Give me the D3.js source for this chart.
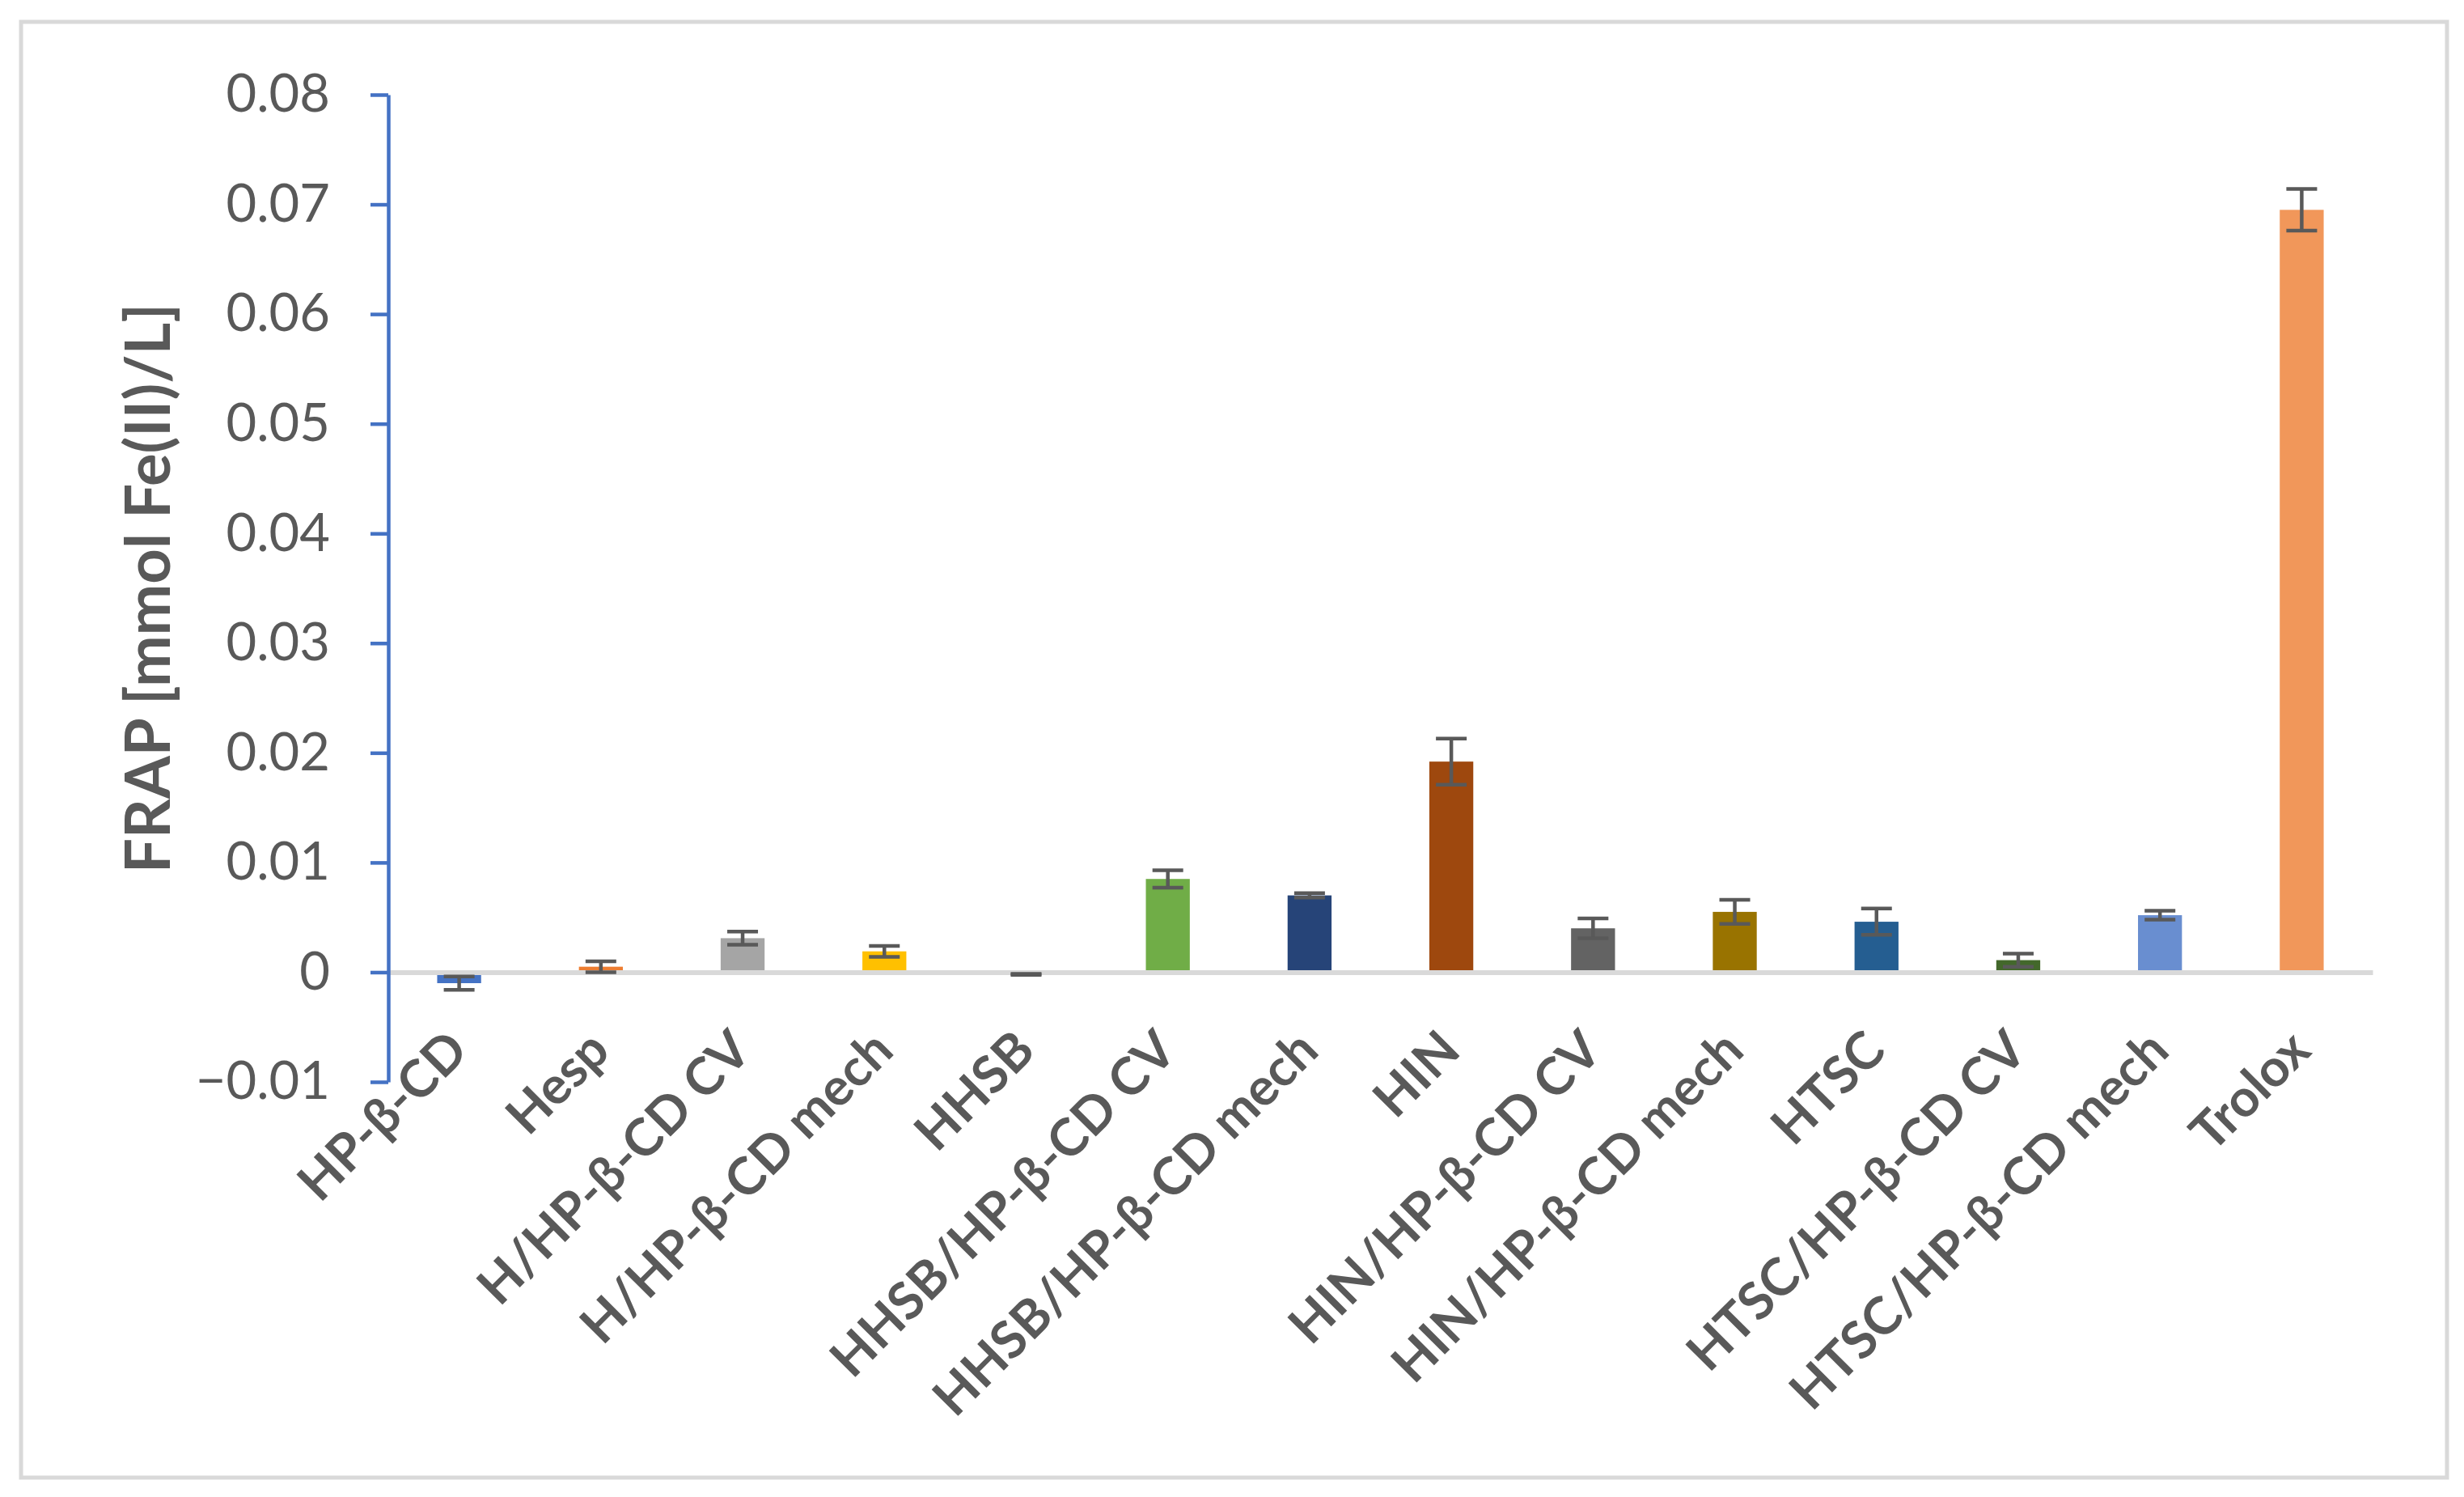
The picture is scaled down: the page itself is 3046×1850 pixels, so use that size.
<!DOCTYPE html>
<html>
<head>
<meta charset="utf-8">
<script src="https://cdn.jsdelivr.net/npm/d3@7"></script>
<style>
  html, body { margin: 0; padding: 0; background: #ffffff; }
  svg { display: block; }
</style>
</head>
<body>
<svg id="chart" width="3046" height="1850"></svg>
<script>
// ---- data ----
const categories = ["HP-β-CD", "Hesp", "H/HP-β-CD CV", "H/HP-β-CD mech", "HHSB",
  "HHSB/HP-β-CD CV", "HHSB/HP-β-CD mech", "HIN", "HIN/HP-β-CD CV", "HIN/HP-β-CD mech",
  "HTSC", "HTSC/HP-β-CD CV", "HTSC/HP-β-CD mech", "Trolox"];
const values = [-0.0010, 0.0005, 0.0031, 0.0019, -0.0002, 0.0085, 0.0070, 0.0192,
  0.0040, 0.0055, 0.0046, 0.0011, 0.0052, 0.0695];
const errors = [0.0006, 0.0005, 0.0006, 0.0005, 0.00004, 0.0008, 0.0002, 0.0021,
  0.0009, 0.0011, 0.0012, 0.0006, 0.0004, 0.0019];
const barColors = ["#4472C4", "#ED7D31", "#A5A5A5", "#FFC000", "#5B9BD5", "#70AD47",
  "#264478", "#9E480E", "#636363", "#997300", "#255E91", "#43682B", "#698ED0", "#F1975A"];
const yTickValues = [-0.01, 0, 0.01, 0.02, 0.03, 0.04, 0.05, 0.06, 0.07, 0.08];
const yTickLabels = ["\u22120.01", "0", "0.01", "0.02", "0.03", "0.04", "0.05", "0.06", "0.07", "0.08"];
const yTitle = "FRAP [mmol Fe(II)/L]";

// ---- layout ----
const svg = d3.select("#chart");
const plotLeft = 480, plotRight = 2933, plotTop = 117, plotBottom = 1337;

svg.append("rect")
  .attr("x", 26).attr("y", 27).attr("width", 2999).attr("height", 1799)
  .attr("fill", "#ffffff").attr("stroke", "#D9D9D9").attr("stroke-width", 5);

const y = d3.scaleLinear().domain([-0.01, 0.08]).range([plotBottom, plotTop]);
const pad = 0.69;
const x = d3.scaleBand().domain(categories).range([plotLeft, plotRight])
  .paddingInner(pad).paddingOuter(pad / 2);

const data = categories.map((c, i) => ({ c, v: values[i], e: errors[i], col: barColors[i] }));

// bars
svg.append("g").selectAll("rect").data(data).join("rect")
  .attr("x", d => x(d.c))
  .attr("width", x.bandwidth())
  .attr("y", d => y(Math.max(0, d.v)))
  .attr("height", d => Math.max(1, Math.abs(y(d.v) - y(0))))
  .attr("fill", d => d.col);

// category axis (zero line)
const xAxis = svg.append("g")
  .attr("transform", `translate(0,${y(0)})`)
  .call(d3.axisBottom(x).tickSize(0).tickSizeOuter(0));
xAxis.select(".domain").attr("stroke", "#D9D9D9").attr("stroke-width", 6);
xAxis.selectAll(".tick text")
  .attr("x", null).attr("y", null).attr("dy", null)
  .attr("transform", "translate(14,100) rotate(-45)")
  .attr("text-anchor", "end")
  .attr("fill", "#595959")
  .attr("font-family", "Lato, 'Open Sans', sans-serif")
  .attr("font-weight", "bold")
  .attr("font-size", 64);

// y axis
const yAxis = svg.append("g")
  .attr("transform", `translate(${plotLeft},0)`)
  .call(d3.axisLeft(y).tickValues(yTickValues)
    .tickFormat((d, i) => yTickLabels[i]).tickSize(22).tickSizeOuter(0).tickPadding(50));
yAxis.select(".domain").attr("stroke", "#4472C4").attr("stroke-width", 4.5);
yAxis.selectAll(".tick line").attr("stroke", "#4472C4").attr("stroke-width", 4.5);
yAxis.selectAll(".tick text")
  .attr("fill", "#595959")
  .attr("font-family", "Lato, 'Open Sans', sans-serif")
  .attr("font-size", 65);

// error bars
const capHalf = 19;
const eb = svg.append("g").attr("stroke", "#595959").attr("stroke-width", 4.5);
eb.selectAll("line.stem").data(data).join("line").attr("class", "stem")
  .attr("x1", d => x(d.c) + x.bandwidth() / 2).attr("x2", d => x(d.c) + x.bandwidth() / 2)
  .attr("y1", d => y(d.v - d.e)).attr("y2", d => y(d.v + d.e));
eb.selectAll("line.capTop").data(data).join("line").attr("class", "capTop")
  .attr("x1", d => x(d.c) + x.bandwidth() / 2 - capHalf).attr("x2", d => x(d.c) + x.bandwidth() / 2 + capHalf)
  .attr("y1", d => y(d.v + d.e)).attr("y2", d => y(d.v + d.e));
eb.selectAll("line.capBot").data(data).join("line").attr("class", "capBot")
  .attr("x1", d => x(d.c) + x.bandwidth() / 2 - capHalf).attr("x2", d => x(d.c) + x.bandwidth() / 2 + capHalf)
  .attr("y1", d => y(d.v - d.e)).attr("y2", d => y(d.v - d.e));

// y title
svg.append("text")
  .attr("transform", `translate(210,${(y(-0.01) + y(0.08)) / 2}) rotate(-90)`)
  .attr("text-anchor", "middle")
  .attr("fill", "#595959")
  .attr("font-family", "Lato, 'Open Sans', sans-serif")
  .attr("font-weight", "bold")
  .attr("font-size", 76)
  .text(yTitle);
</script>
</body>
</html>
